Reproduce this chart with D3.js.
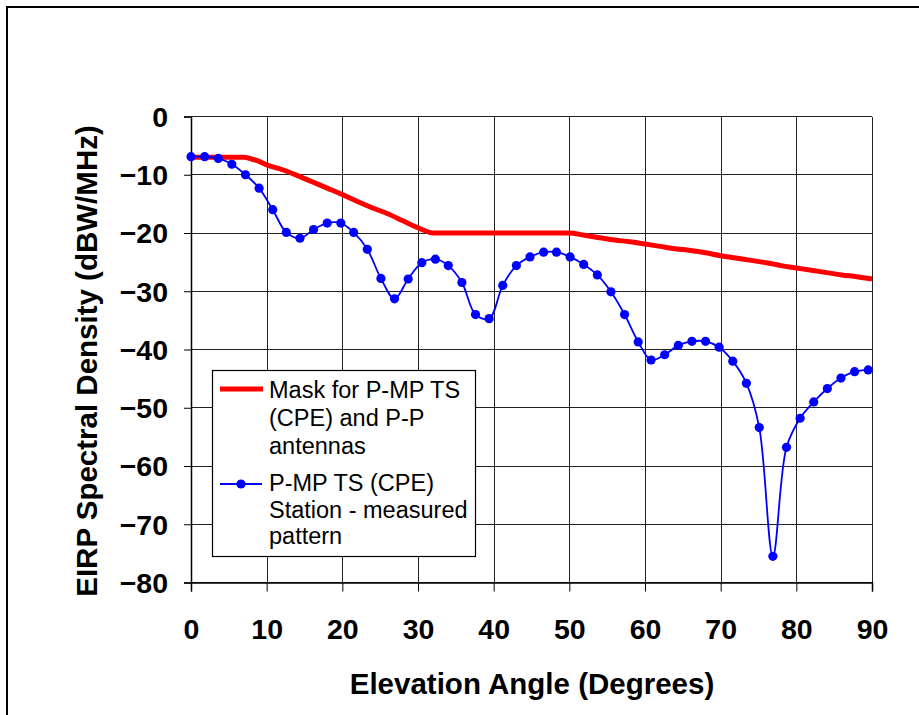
<!DOCTYPE html>
<html>
<head>
<meta charset="utf-8">
<script src="https://cdn.jsdelivr.net/npm/d3@7"></script>
<style>
  body { margin: 0; background: #fff; }
  text { font-family: Arial, 'Liberation Sans', sans-serif; }
</style>
</head>
<body>
<div id="chart"></div>
<script>
// measured pattern (blue)
var measuredX = [0, 1.8, 3.6, 5.4, 7.2, 9.0, 10.8, 12.6, 14.4, 16.2, 18.0, 19.8, 21.5, 23.3, 25.1, 26.9, 28.7,
                 30.5, 32.3, 34.0, 35.8, 37.6, 39.4, 41.2, 43.0, 44.8, 46.6, 48.3, 50.1, 51.9, 53.7, 55.5,
                 57.3, 59.1, 60.8, 62.6, 64.4, 66.2, 68.0, 69.8, 71.6, 73.4, 75.1, 76.9, 78.7, 80.5, 82.3,
                 84.1, 85.9, 87.7, 89.5];
var measuredY = [-6.9, -6.9, -7.2, -8.2, -10.0, -12.3, -16.0, -19.9, -20.9, -19.4, -18.3, -18.3, -19.9, -22.8,
                 -27.8, -31.3, -27.9, -25.1, -24.5, -25.6, -28.5, -34.0, -34.7, -29.0, -25.6, -24.1, -23.3,
                 -23.3, -24.1, -25.4, -27.2, -30.1, -34.0, -38.7, -41.8, -40.9, -39.3, -38.6, -38.6, -39.6,
                 -42.0, -45.8, -53.4, -75.5, -56.8, -51.8, -49.0, -46.7, -44.9, -43.8, -43.5];

// mask (red)
var maskX = [0, 2, 4, 6, 7, 8, 9, 10, 12, 14, 16, 18, 20, 22, 24, 26, 28, 30, 32, 36, 40, 44, 48, 50,
             52, 54, 56, 58, 60, 62, 64, 66, 68, 70, 72, 74, 76, 78, 80, 82, 84, 86, 88, 90];
var maskY = [-7, -7, -7, -7, -7, -7.3, -7.7, -8.3, -9.1, -10.1, -11.2, -12.3, -13.4, -14.6, -15.7, -16.7,
             -17.9, -19.1, -20, -20, -20, -20, -20, -20, -20.4, -20.8, -21.2, -21.5, -21.9, -22.3, -22.7,
             -23.0, -23.4, -23.9, -24.3, -24.7, -25.1, -25.6, -26.0, -26.4, -26.8, -27.2, -27.5, -27.9];

var xTicks = [0, 10, 20, 30, 40, 50, 60, 70, 80, 90];
var yTicks = [0, -10, -20, -30, -40, -50, -60, -70, -80];

var legendMask = ['Mask for P-MP TS', '(CPE) and P-P', 'antennas'];
var legendMeasured = ['P-MP TS (CPE)', 'Station - measured', 'pattern'];

var W = 919, H = 715;
var plotLeft = 191, plotRight = 872, plotTop = 116.5, plotBottom = 582.5;

var svg = d3.select('#chart').append('svg')
            .attr('width', W)
            .attr('height', H);

// outer frame
svg.append('rect')
   .attr('x', 7).attr('y', 7)
   .attr('width', 960).attr('height', 760)
   .attr('fill', 'none')
   .attr('stroke', '#000')
   .attr('stroke-width', 2);

var x = d3.scaleLinear().domain([0, 90]).range([plotLeft, plotRight]);
var y = d3.scaleLinear().domain([-80, 0]).range([plotBottom, plotTop]);

// grid
var grid = svg.append('g').attr('class', 'grid').attr('shape-rendering', 'crispEdges');
grid.selectAll('line.v').data(xTicks).enter().append('line')
    .attr('class', 'v')
    .attr('x1', function(d) { return Math.round(x(d)) + 0.5; })
    .attr('x2', function(d) { return Math.round(x(d)) + 0.5; })
    .attr('y1', plotTop).attr('y2', plotBottom)
    .attr('stroke', '#222').attr('stroke-width', 1);
grid.selectAll('line.h').data(yTicks).enter().append('line')
    .attr('class', 'h')
    .attr('y1', function(d) { return y(d); })
    .attr('y2', function(d) { return y(d); })
    .attr('x1', plotLeft).attr('x2', plotRight)
    .attr('stroke', '#222').attr('stroke-width', 1);

// axes
var xAxis = d3.axisBottom(x).tickValues(xTicks).tickSize(9).tickPadding(0).tickFormat(d3.format('d'));
var yAxis = d3.axisLeft(y).tickValues(yTicks).tickSize(7).tickPadding(0).tickFormat(d3.format('d'));

var gx = svg.append('g')
            .attr('transform', 'translate(0,' + plotBottom + ')')
            .call(xAxis);
var gy = svg.append('g')
            .attr('transform', 'translate(' + plotLeft + ',0)')
            .call(yAxis);

[gx, gy].forEach(function(g) {
  g.select('.domain').attr('stroke', '#000').attr('stroke-width', 1.5);
  g.selectAll('.tick line').attr('stroke', '#000');
  g.selectAll('.tick text')
   .attr('fill', '#000')
   .style('font-size', '28.5px')
   .style('font-weight', 'bold')
   .style('font-family', 'Arial, "Liberation Sans", sans-serif');
});
gx.selectAll('.tick text').attr('y', 56).attr('dy', 0);
gy.selectAll('.tick text').attr('x', -23).attr('dy', '0.35em');

// lines
var maskData = maskX.map(function(d, i) { return [d, maskY[i]]; });
var measuredData = measuredX.map(function(d, i) { return [d, measuredY[i]]; });

var maskLine = d3.line()
                 .x(function(d) { return x(d[0]); })
                 .y(function(d) { return y(d[1]); })
                 .curve(d3.curveMonotoneX);
var measuredLine = d3.line()
                     .x(function(d) { return x(d[0]); })
                     .y(function(d) { return y(d[1]); })
                     .curve(d3.curveCatmullRom.alpha(0.5));

svg.append('path')
   .attr('d', maskLine(maskData))
   .attr('fill', 'none')
   .attr('stroke', '#ff0000')
   .attr('stroke-width', 5);

svg.append('path')
   .attr('d', measuredLine(measuredData))
   .attr('fill', 'none')
   .attr('stroke', '#0000ff')
   .attr('stroke-width', 1.8);

svg.append('g').selectAll('circle')
   .data(measuredData)
   .enter().append('circle')
   .attr('cx', function(d) { return x(d[0]); })
   .attr('cy', function(d) { return y(d[1]); })
   .attr('r', 4.6)
   .attr('fill', '#0000ff');

// axis titles
svg.append('text')
   .attr('x', (plotLeft + plotRight) / 2 + 0.5)
   .attr('y', 694)
   .attr('text-anchor', 'middle')
   .style('font-size', '29.5px')
   .style('font-weight', 'bold')
   .text('Elevation Angle (Degrees)');

svg.append('text')
   .attr('transform', 'translate(97,361) rotate(-90)')
   .attr('text-anchor', 'middle')
   .style('font-size', '29.5px')
   .style('font-weight', 'bold')
   .text('EIRP Spectral Density (dBW/MHz)');

// legend
var legend = svg.append('g').attr('class', 'legend');
legend.append('rect')
      .attr('x', 212.5).attr('y', 370.5)
      .attr('width', 263).attr('height', 186)
      .attr('fill', '#fff')
      .attr('stroke', '#000')
      .attr('stroke-width', 1.2);

legend.append('line')
      .attr('x1', 220).attr('x2', 263)
      .attr('y1', 389).attr('y2', 389)
      .attr('stroke', '#ff0000').attr('stroke-width', 5);
legend.append('line')
      .attr('x1', 220).attr('x2', 262)
      .attr('y1', 484).attr('y2', 484)
      .attr('stroke', '#0000ff').attr('stroke-width', 1.8);
legend.append('circle')
      .attr('cx', 241).attr('cy', 484).attr('r', 4.6)
      .attr('fill', '#0000ff');

legend.selectAll('text.mask').data(legendMask).enter().append('text')
      .attr('class', 'mask')
      .attr('x', 269)
      .attr('y', function(d, i) { return 398 + i * 28; })
      .style('font-size', '23.5px')
      .text(function(d) { return d; });
legend.selectAll('text.meas').data(legendMeasured).enter().append('text')
      .attr('class', 'meas')
      .attr('x', 269)
      .attr('y', function(d, i) { return 491 + i * 26.5; })
      .style('font-size', '23.5px')
      .text(function(d) { return d; });
</script>
</body>
</html>
